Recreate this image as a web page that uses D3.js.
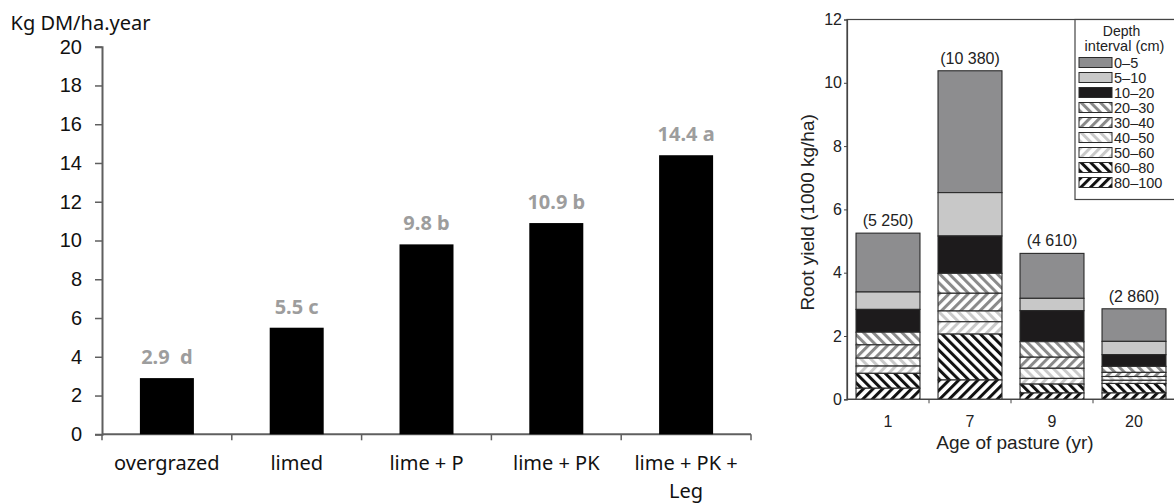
<!DOCTYPE html>
<html>
<head>
<meta charset="utf-8">
<script src="https://cdn.jsdelivr.net/npm/d3@7"></script>
<style>
  body { margin: 0; background: #fff; }
  svg { display: block; }
</style>
</head>
<body>
<svg id="chart" width="1174" height="504"></svg>
<script>
// Left chart: dry matter yield by treatment
const treatments = ["overgrazed", "limed", "lime + P", "lime + PK", "lime + PK + Leg"];
const treatmentLines = [["overgrazed"], ["limed"], ["lime + P"], ["lime + PK"], ["lime + PK +", "Leg"]];
const yields = [2.9, 5.5, 9.8, 10.9, 14.4];
const yieldLabels = ["2.9  d", "5.5 c", "9.8 b", "10.9 b", "14.4 a"];
const yieldTicks = [0, 2, 4, 6, 8, 10, 12, 14, 16, 18, 20];

// Right chart: root yield by pasture age and depth (1000 kg/ha)
const ages = ["1", "7", "9", "20"];
const depths = ["0–5", "5–10", "10–20", "20–30", "30–40", "40–50", "50–60", "60–80", "80–100"];
const rootAge1 = [1.86, 0.55, 0.72, 0.40, 0.42, 0.25, 0.23, 0.47, 0.35];
const rootAge7 = [3.85, 1.37, 1.18, 0.63, 0.56, 0.34, 0.39, 1.45, 0.61];
const rootAge9 = [1.42, 0.39, 0.98, 0.49, 0.35, 0.32, 0.18, 0.28, 0.20];
const rootAge20 = [1.03, 0.42, 0.37, 0.19, 0.13, 0.12, 0.10, 0.30, 0.20];
const rootTotals = [5250, 10380, 4610, 2860];
const rootTicks = [0, 2, 4, 6, 8, 10, 12];

const svg = d3.select('#chart');

// ===================================================================
// LEFT CHART
// ===================================================================
const left = svg.append('g').attr('font-family', '"Noto Sans", sans-serif');

const x1 = d3.scaleBand()
    .domain(treatments)
    .range([102, 751])
    .paddingInner(0.584)
    .paddingOuter(0.292);

const y1 = d3.scaleLinear()
    .domain([0, 20])
    .range([434.3, 46.7]);

const axisColor = '#5f5f5f';

// y axis
const yAxis1 = left.append('g')
    .attr('transform', `translate(${x1.range()[0]},0)`)
    .call(d3.axisLeft(y1).tickValues(yieldTicks).tickSize(7).tickPadding(13));
yAxis1.select('.domain').attr('stroke', axisColor).attr('stroke-width', 2);
yAxis1.selectAll('.tick line').attr('stroke', axisColor).attr('stroke-width', 1.5);
yAxis1.selectAll('text').attr('font-size', 20).attr('fill', '#111');

left.append('text')
    .attr('x', 10.5)
    .attr('y', 29.5)
    .attr('font-size', 20)
    .attr('fill', '#111')
    .text('Kg DM/ha.year');

// x axis line + boundary ticks
left.append('line')
    .attr('x1', x1.range()[0]).attr('x2', x1.range()[1])
    .attr('y1', y1(0)).attr('y2', y1(0))
    .attr('stroke', axisColor).attr('stroke-width', 2);

const bounds1 = d3.range(treatments.length + 1).map(i => x1.range()[0] + i * x1.step());
left.selectAll('.xtick')
    .data(bounds1)
    .join('line')
    .attr('class', 'xtick')
    .attr('x1', d => d).attr('x2', d => d)
    .attr('y1', y1(0)).attr('y2', y1(0) + 6)
    .attr('stroke', axisColor).attr('stroke-width', 1.5);

// bars
left.selectAll('.bar')
    .data(treatments)
    .join('rect')
    .attr('class', 'bar')
    .attr('x', d => x1(d))
    .attr('width', x1.bandwidth())
    .attr('y', (d, i) => y1(yields[i]))
    .attr('height', (d, i) => y1(0) - y1(yields[i]))
    .attr('fill', '#000');

// value labels
left.selectAll('.val')
    .data(treatments)
    .join('text')
    .attr('class', 'val')
    .attr('x', d => x1(d) + x1.bandwidth() / 2)
    .attr('y', (d, i) => y1(yields[i]) - 14)
    .attr('text-anchor', 'middle')
    .attr('font-size', 20)
    .attr('font-weight', 'bold')
    .attr('fill', '#9d9d9d')
    .style('white-space', 'pre')
    .text((d, i) => yieldLabels[i]);

// category labels (one text per line)
treatments.forEach((d, i) => {
    const cx = x1(d) + x1.bandwidth() / 2;
    treatmentLines[i].forEach((line, j) => {
        left.append('text')
            .attr('class', 'cat')
            .attr('x', cx)
            .attr('y', 470 + j * 27.5)
            .attr('text-anchor', 'middle')
            .attr('font-size', 20)
            .attr('fill', '#111')
            .text(line);
    });
});

// ===================================================================
// RIGHT CHART
// ===================================================================
const right = svg.append('g').attr('font-family', '"Liberation Sans", Arial, sans-serif');

const x2 = d3.scaleBand()
    .domain(ages)
    .range([847, 1175])
    .paddingInner(0.22)
    .paddingOuter(0.11);

const y2 = d3.scaleLinear()
    .domain([0, 12])
    .range([399.3, 19.5]);

// patterns
const defs = svg.append('defs');
const patternDefs = [
    { id: 'p3', color: '#8a8a8a', angle: -45 },
    { id: 'p4', color: '#8a8a8a', angle: 45 },
    { id: 'p5', color: '#c9c9c9', angle: -45 },
    { id: 'p6', color: '#c9c9c9', angle: 45 },
    { id: 'p7', color: '#111', angle: -45 },
    { id: 'p8', color: '#111', angle: 45 }
];
patternDefs.forEach(p => {
    const pat = defs.append('pattern')
        .attr('id', p.id)
        .attr('patternUnits', 'userSpaceOnUse')
        .attr('width', 6.8)
        .attr('height', 6.8)
        .attr('patternTransform', `rotate(${p.angle})`);
    pat.append('rect').attr('width', 6.8).attr('height', 6.8).attr('fill', '#fff');
    pat.append('rect').attr('width', 3).attr('height', 6.8).attr('fill', p.color);
});

const depthFills = ['#8d8d8f', '#c8c8c8', '#1d1b1c',
    'url(#p3)', 'url(#p4)', 'url(#p5)', 'url(#p6)', 'url(#p7)', 'url(#p8)'];
const fill = d3.scaleOrdinal().domain(depths).range(depthFills);

const rootRows = [rootAge1, rootAge7, rootAge9, rootAge20].map((vals, i) => {
    const row = { age: ages[i] };
    depths.forEach((k, j) => row[k] = vals[j]);
    return row;
});

const series = d3.stack()
    .keys(depths)
    .order(d3.stackOrderReverse)(rootRows);

// frame (top + left)
right.append('rect')
    .attr('x', x2.range()[0])
    .attr('y', y2(12))
    .attr('width', 400)
    .attr('height', y2(0) - y2(12))
    .attr('fill', 'none')
    .attr('stroke', '#444')
    .attr('stroke-width', 1.2);

// stacked bars
right.selectAll('.layer')
    .data(series)
    .join('g')
    .attr('class', 'layer')
    .attr('fill', d => fill(d.key))
    .selectAll('rect')
    .data(d => d)
    .join('rect')
    .attr('x', d => x2(d.data.age))
    .attr('width', x2.bandwidth())
    .attr('y', d => y2(d[1]))
    .attr('height', d => y2(d[0]) - y2(d[1]))
    .attr('stroke', '#2a2a2a')
    .attr('stroke-width', 1.1);

// totals
right.selectAll('.total')
    .data(ages)
    .join('text')
    .attr('class', 'total')
    .attr('x', d => x2(d) + x2.bandwidth() / 2)
    .attr('y', (d, i) => y2(rootTotals[i] / 1000) - 7)
    .attr('text-anchor', 'middle')
    .attr('font-size', 16)
    .attr('fill', '#222')
    .text((d, i) => `(${d3.format(',')(rootTotals[i]).replace(',', ' ')})`);

// y axis
const yAxis2 = right.append('g')
    .attr('transform', `translate(${x2.range()[0]},0)`)
    .call(d3.axisLeft(y2).tickValues(rootTicks).tickSize(3).tickPadding(2));
yAxis2.select('.domain').attr('stroke', '#444').attr('stroke-width', 1.2);
yAxis2.selectAll('.tick line').attr('stroke', '#444');
yAxis2.selectAll('text').attr('font-size', 16).attr('fill', '#222');

right.append('text')
    .attr('transform', `translate(813.5,${(y2(0) + y2(12)) / 2 + 3}) rotate(-90)`)
    .attr('text-anchor', 'middle')
    .attr('font-size', 19)
    .attr('fill', '#222')
    .text('Root yield (1000 kg/ha)');

// x axis
right.append('line')
    .attr('x1', x2.range()[0]).attr('x2', 1180)
    .attr('y1', y2(0)).attr('y2', y2(0))
    .attr('stroke', '#444').attr('stroke-width', 1.2);

const bounds2 = d3.range(1, ages.length).map(i => x2.range()[0] + i * x2.step());
right.selectAll('.xtick2')
    .data(bounds2)
    .join('line')
    .attr('class', 'xtick2')
    .attr('x1', d => d).attr('x2', d => d)
    .attr('y1', y2(0)).attr('y2', y2(0) + 4)
    .attr('stroke', '#444');

right.selectAll('.age')
    .data(ages)
    .join('text')
    .attr('class', 'age')
    .attr('x', d => x2(d) + x2.bandwidth() / 2)
    .attr('y', 426.7)
    .attr('text-anchor', 'middle')
    .attr('font-size', 16)
    .attr('fill', '#222')
    .text(d => d);

right.append('text')
    .attr('x', 1015)
    .attr('y', 448.5)
    .attr('text-anchor', 'middle')
    .attr('font-size', 19)
    .attr('fill', '#222')
    .text('Age of pasture (yr)');

// legend
const legend = right.append('g').attr('transform', 'translate(1075,19.5)');
legend.append('rect')
    .attr('width', 120)
    .attr('height', 180)
    .attr('fill', '#fff')
    .attr('stroke', '#444')
    .attr('stroke-width', 1.2);
legend.append('text')
    .attr('x', 46.5).attr('y', 16.5)
    .attr('text-anchor', 'middle')
    .attr('font-size', 14)
    .attr('fill', '#222')
    .text('Depth');
legend.append('text')
    .attr('x', 49.5).attr('y', 31.5)
    .attr('text-anchor', 'middle')
    .attr('font-size', 14.5)
    .attr('fill', '#222')
    .text('interval (cm)');

const rows = legend.selectAll('.lrow')
    .data(depths)
    .join('g')
    .attr('class', 'lrow')
    .attr('transform', (d, i) => `translate(4,${38 + i * 15})`);
rows.append('rect')
    .attr('width', 33)
    .attr('height', 10)
    .attr('fill', d => fill(d))
    .attr('stroke', '#2a2a2a')
    .attr('stroke-width', 1);
rows.append('text')
    .attr('x', 35)
    .attr('y', 10.5)
    .attr('font-size', 14.5)
    .attr('fill', '#222')
    .text(d => d);
</script>
</body>
</html>
